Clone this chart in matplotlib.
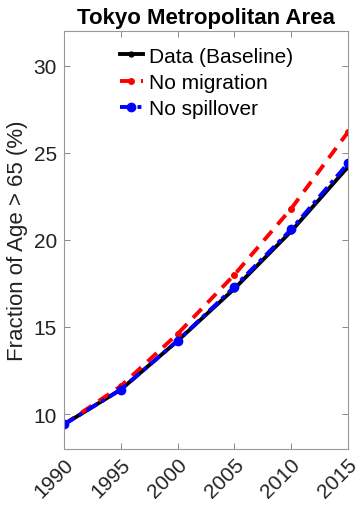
import matplotlib
matplotlib.use("Agg")
import matplotlib.pyplot as plt
from matplotlib.transforms import ScaledTranslation

years = [1990, 1995, 2000, 2005, 2010, 2015]
baseline = [9.4, 11.4, 14.2, 17.2, 20.5, 24.2]
no_migration = [9.4, 11.6, 14.6, 18.0, 21.8, 26.2]
no_spillover = [9.4, 11.4, 14.2, 17.3, 20.6, 24.4]
yticks = [10, 15, 20, 25, 30]

plt.rcParams["font.family"] = ["Liberation Sans", "DejaVu Sans"]

fig = plt.figure(figsize=(3.63, 5.06), dpi=100)
ax = fig.add_axes([0.176, 0.111, 0.783, 0.826])

ax.plot(years, baseline, color="black", lw=2.8, marker="o", ms=3.5,
        label="Data (Baseline)")
ax.plot(years, no_migration, color="#ff0000", lw=2.8, ls=(0, (3.2, 2.2)),
        marker="o", ms=4, label="No migration")
ax.plot(years, no_spillover, color="#0000ff", lw=2.8, ls=(0, (3.2, 1.3, 1.0, 1.3)),
        marker="o", ms=6, label="No spillover")

ax.set_xlim(1990, 2015)
ax.set_ylim(8, 32)
ax.set_xticks(years)
ax.set_xticklabels([str(y) for y in years], rotation=45, ha="right", va="top")
ax.set_yticks(yticks)
ax.tick_params(direction="in", length=4, width=0.7, color="#888888",
               labelsize=15, top=True, right=True, labelcolor="#222222", pad=5)
ax.tick_params(axis="x", pad=4)
shift = ScaledTranslation(0.13, 0, fig.dpi_scale_trans)
for lab in ax.get_xticklabels():
    lab.set_transform(lab.get_transform() + shift)
for s in ax.spines.values():
    s.set_color("#999999")
    s.set_linewidth(0.8)

ax.set_ylabel("Fraction of Age > 65 (%)", fontsize=16, color="#222222", labelpad=4)
ax.set_title("Tokyo Metropolitan Area", fontsize=16, fontweight="bold", pad=6)

ax.legend(loc="upper left", bbox_to_anchor=(0.197, 0.962), frameon=False,
          fontsize=15, handlelength=1.1, handletextpad=0.3, labelspacing=0.35,
          borderaxespad=0, borderpad=0)

fig.savefig("out.png", dpi=100)
